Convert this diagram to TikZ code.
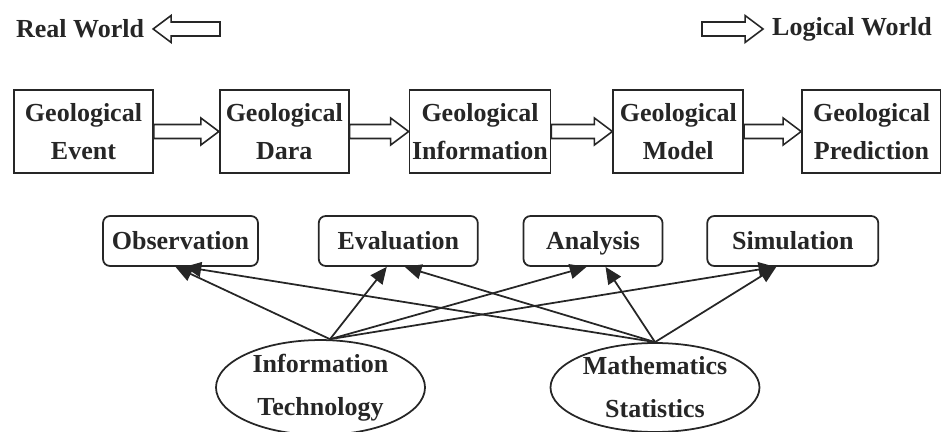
\documentclass[tikz,border=0pt]{standalone}
\usepackage{fontspec}
\setmainfont{Liberation Serif}
\usepackage{tikz}
\usetikzlibrary{arrows.meta,positioning,calc,shapes.geometric}
\usepackage{xcolor}
\definecolor{Ink}{HTML}{262626}
\tikzset{
  lbl/.style={font=\fontsize{14.8}{22}\selectfont\bfseries, text=Ink},
  geobox/.style={lbl, draw=Ink, line width=1pt, minimum height=1.66cm,
    align=center, inner sep=1pt, minimum width=#1},
  geobox/.default={2.7cm},
  taskbox/.style={lbl, draw=Ink, line width=1pt, rounded corners=4pt,
    minimum height=1cm, inner sep=1pt, text height=2.7ex, text depth=0.6ex,
    minimum width=#1},
  taskbox/.default={3cm},
  toolell/.style={lbl, font=\fontsize{14.8}{24.5}\selectfont\bfseries, ellipse,
    draw=Ink, line width=1pt, minimum width=4.18cm, minimum height=1.78cm,
    inner sep=0pt, align=center},
  fatline/.style={draw=Ink, line width=0.9pt, fill=white, line join=miter},
  linkarr/.style={-{Triangle[length=9.5pt,width=8.5pt]}, line width=1pt, color=Ink},
}
% hollow block arrow from #1 (tail) to #2 (tip)
\newcommand{\fatarrow}[2]{%
  \path ($(#2)!0.36cm!(#1)$) coordinate (hb);
  \draw[fatline] ($(#1)!0.14cm!90:(#2)$) -- ($(hb)!0.14cm!-90:(#1)$)
    -- ($(hb)!0.27cm!-90:(#1)$) -- (#2) -- ($(hb)!0.27cm!90:(#1)$)
    -- ($(hb)!0.14cm!90:(#1)$) -- ($(#1)!0.14cm!-90:(#2)$) -- cycle;}

\begin{document}
\begin{tikzpicture}
  \useasboundingbox (0,0) rectangle (18.82,-8.64);

  % world labels
  \node[lbl, anchor=west, inner sep=5pt] (rw) at (0.14,-0.58) {Real World};
  \node[lbl, anchor=east, inner sep=5pt] (lw) at (18.82,-0.58) {Logical World};
  \coordinate (rwtail) at (4.40,-0.58);
  \coordinate (lwtail) at (14.04,-0.58);
  \fatarrow{rwtail}{rw.east}
  \fatarrow{lwtail}{lw.west}

  % geological chain
  \node[geobox=2.78cm] (ev) at (1.67,-2.63) {Geological\\Event};
  \node[geobox=2.58cm, right=1.30cm of ev] (da) {Geological\\Dara};
  \node[geobox=2.82cm, right=1.18cm of da] (inf) {Geological\\Information};
  \node[geobox=2.60cm, right=1.22cm of inf] (mo) {Geological\\Model};
  \node[geobox=2.78cm, right=1.14cm of mo] (pr) {Geological\\Prediction};

  \fatarrow{ev.east}{da.west}
  \fatarrow{da.east}{inf.west}
  \fatarrow{inf.east}{mo.west}
  \fatarrow{mo.east}{pr.west}

  % tasks
  \node[taskbox=3.10cm] (obs) at (3.61,-4.82) {Observation};
  \node[taskbox=3.18cm, right=1.18cm of obs] (eva) {Evaluation};
  \node[taskbox=2.78cm, right=0.88cm of eva] (ana) {Analysis};
  \node[taskbox=3.42cm, right=0.86cm of ana] (sim) {Simulation};

  % tools
  \node[toolell] (it) at (6.41,-7.75) {Information\\Technology};
  \node[toolell] (ms) at (13.10,-7.75) {Mathematics\\Statistics};

  \draw[linkarr] ([xshift=0.19cm]it.north) -- ([xshift=-0.1cm]obs.south);
  \draw[linkarr] ([xshift=0.19cm]it.north) -- ([xshift=-0.23cm]eva.south);
  \draw[linkarr] ([xshift=0.19cm]it.north) -- ([xshift=-0.13cm]ana.south);
  \draw[linkarr] ([xshift=0.19cm]it.north) -- ([xshift=-0.35cm]sim.south);

  \draw[linkarr] (ms.north) -- ([xshift=0.08cm]obs.south);
  \draw[linkarr] (ms.north) -- ([xshift=0.13cm]eva.south);
  \draw[linkarr] (ms.north) -- ([xshift=0.25cm]ana.south);
  \draw[linkarr] (ms.north) -- ([xshift=-0.33cm]sim.south);
\end{tikzpicture}
\end{document}
